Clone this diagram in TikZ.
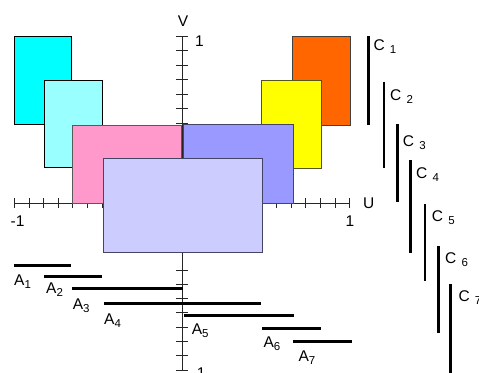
\documentclass[tikz,border=0pt]{standalone}
\usepackage{fontspec}
\setmainfont{Liberation Sans}
\definecolor{ccyan}{HTML}{00FFFF}
\definecolor{clcyan}{HTML}{99FFFF}
\definecolor{cpink}{HTML}{FF99CC}
\definecolor{cblue}{HTML}{9999FF}
\definecolor{clav}{HTML}{CCCCFF}
\definecolor{corange}{HTML}{FF6600}
\definecolor{cyellow}{HTML}{FFFF00}
\definecolor{yborder}{HTML}{555522}
\definecolor{bborder}{HTML}{444466}
\newcommand{\subl}[1]{\raisebox{-3pt}{\fontsize{11.5}{12}\selectfont #1}}
\tikzset{
  axisline/.style={line width=0.8pt, black!85},
  tickmark/.style={line width=0.8pt, black!85},
  rectbox/.style={line width=0.9pt},
  seg/.style={line width=2.6pt, black},
  lbl/.style={anchor=base west, inner sep=0pt, font=\fontsize{15.5}{18}\selectfont},
}
\begin{document}
\begin{tikzpicture}[x=1pt,y=-1pt]
\useasboundingbox (0,0) rectangle (479,372);
% axes
\coordinate (ul) at (14,203);
\coordinate (ur) at (349.5,203);
\coordinate (vt) at (182,36);
\coordinate (vb) at (182,370);
\draw[axisline] (ul) -- (ur);
\draw[axisline] (vt) -- (vb);
% ticks on V axis
\foreach \y in {36,50.5,65,79.5,94,108.5,123,270,284.2,298.5,312.8,327.1,341.4,355.7,370}
  \draw[tickmark] (176,\y) -- (188,\y);
% ticks on U axis
\foreach \x in {14,29,43.6,58.2,72.8,87.4,102,262,276.6,291.2,305.8,320.4,335,349.5}
  \draw[tickmark] (\x,198) -- (\x,208);
% rectangles
\draw[rectbox, fill=ccyan, draw=black] (14,36) rectangle (71.3,124.3);
\draw[rectbox, fill=clcyan, draw=black] (44.3,80) rectangle (102.3,167);
\draw[rectbox, fill=cpink, draw=black!65] (72,125.3) rectangle (181.7,203);
\draw[rectbox, fill=corange, draw=black!75] (292.3,36) rectangle (350,125.3);
\draw[rectbox, fill=cyellow, draw=yborder] (261.7,80) rectangle (321,168);
\draw[rectbox, fill=cblue, draw=bborder] (183.3,124) rectangle (293,203);
\draw[rectbox, fill=clav, draw=bborder] (103.3,158.7) rectangle (262,252.7);
% axis labels
\node[lbl, anchor=base] (vlab) at (183,26) {V};
\node[lbl] (vone) at (195,46) {1};
\node[lbl] (umone) at (10.5,226.7) {-1};
\node[lbl] (uone) at (345.5,226.7) {1};
\node[lbl] (ulab) at (363,208) {U};
\node[lbl] (vmone) at (191.5,378) {-1};
% A segments
\coordinate (a1l) at (14,265.3);   \coordinate (a1r) at (71.3,265.3);
\coordinate (a2l) at (44.3,276.3); \coordinate (a2r) at (102.3,276.3);
\coordinate (a3l) at (72,288.7);   \coordinate (a3r) at (182.7,288.7);
\coordinate (a4l) at (104,303.3);  \coordinate (a4r) at (260.7,303.3);
\coordinate (a5l) at (184,315.7);  \coordinate (a5r) at (294,315.7);
\coordinate (a6l) at (262,328.3);  \coordinate (a6r) at (321,328.3);
\coordinate (a7l) at (293.3,341.7);\coordinate (a7r) at (351.7,341.7);
\foreach \i in {1,...,7} \draw[seg] (a\i l) -- (a\i r);
\node[lbl] (alab1) at (14,285) {A\subl{1}};
\node[lbl] (alab2) at (46,293.3) {A\subl{2}};
\node[lbl] (alab3) at (72.7,309.3) {A\subl{3}};
\node[lbl] (alab4) at (104,324) {A\subl{4}};
\node[lbl] (alab5) at (191.7,334) {A\subl{5}};
\node[lbl] (alab6) at (263.3,347.3) {A\subl{6}};
\node[lbl] (alab7) at (298.3,361.7) {A\subl{7}};
% C segments
\coordinate (c1t) at (368.3,36);   \coordinate (c1b) at (368.3,125);
\coordinate (c2t) at (384,81.7);   \coordinate (c2b) at (384,168);
\coordinate (c3t) at (397.7,124.3);\coordinate (c3b) at (397.7,202);
\coordinate (c4t) at (410.7,160);  \coordinate (c4b) at (410.7,253.3);
\coordinate (c5t) at (425,204);    \coordinate (c5b) at (425,281);
\coordinate (c6t) at (438.7,246);  \coordinate (c6b) at (438.7,332.7);
\coordinate (c7t) at (450.7,284.3);\coordinate (c7b) at (450.7,375);
\foreach \i in {1,...,7} \draw[seg] (c\i t) -- (c\i b);
\node[lbl] (clab1) at (373.3,50.7) {C\,\,\subl{1}};
\node[lbl] (clab2) at (390,100.7) {C\,\,\subl{2}};
\node[lbl] (clab3) at (402.7,146.7) {C\,\,\subl{3}};
\node[lbl] (clab4) at (416,178.3) {C\,\,\subl{4}};
\node[lbl] (clab5) at (431.7,221.7) {C\,\,\subl{5}};
\node[lbl] (clab6) at (445,263.3) {C\,\,\subl{6}};
\node[lbl] (clab7) at (458.3,301.7) {C\,\,\subl{7}};
\end{tikzpicture}
\end{document}
